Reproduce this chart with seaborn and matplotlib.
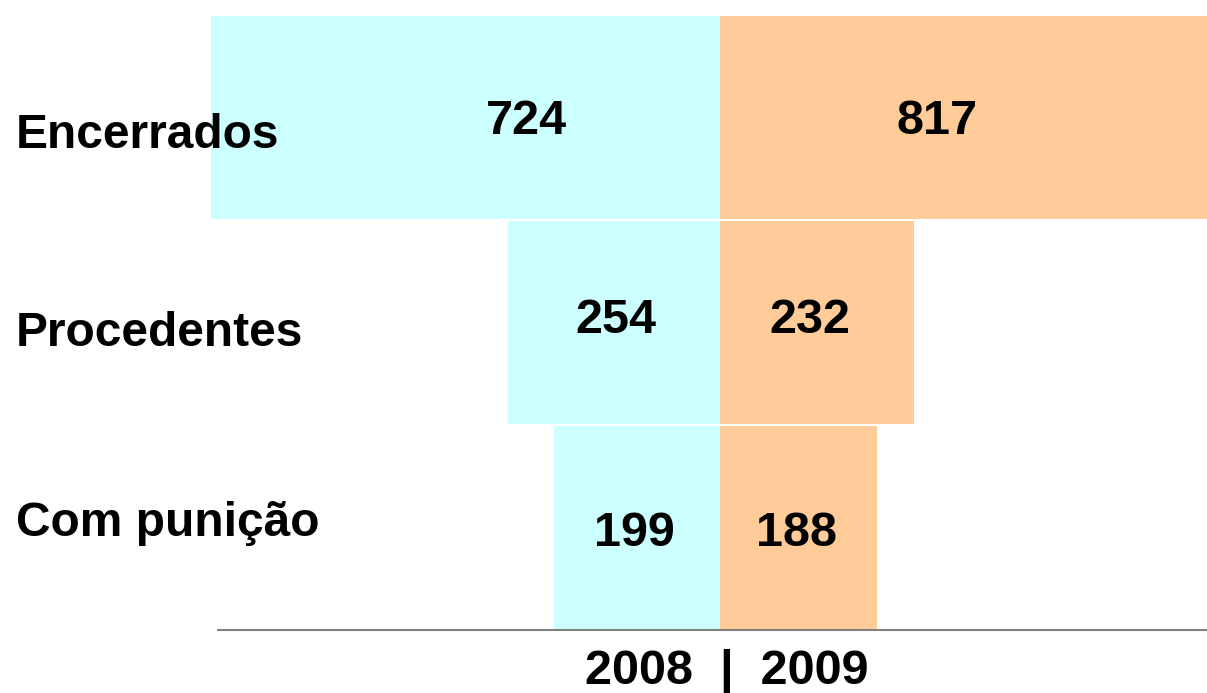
import numpy as np
import pandas as pd
import seaborn as sns
import matplotlib.pyplot as plt

categories = ["Encerrados", "Procedentes", "Com punição"]
vals_2008 = [724, 254, 199]
vals_2009 = [817, 232, 188]
years = ["2008", "2009"]

sns.set_style("white")
plt.rcParams["font.family"] = ["Liberation Sans", "DejaVu Sans"]
plt.rcParams["text.color"] = "black"

fig = plt.figure(figsize=(12.07, 6.93), dpi=100)
ax = fig.add_axes([211 / 1207, 63 / 693, 996 / 1207, 615 / 693])

df = pd.DataFrame({"cat": categories, "y2008": vals_2008, "y2009": vals_2009})
sns.barplot(x=-df["y2008"], y=df["cat"], orient="h", color="#CCFFFF",
            saturation=1, width=0.99, linewidth=0, ax=ax)
sns.barplot(x=df["y2009"], y=df["cat"], orient="h", color="#FFCC99",
            saturation=1, width=0.99, linewidth=0, ax=ax)

ax.set_xlim(-609.6, 583.2)
ax.set_ylim(2.5, -0.5)

# value labels inside the bars (slight per-row vertical nudges)
left_pos = [-232, -125, -102]
right_pos = [260, 108, 92]
nudge = [0.02, -0.01, 0.03]
for i in range(len(categories)):
    ax.text(left_pos[i], i + nudge[i], str(vals_2008[i]), ha="center", va="center",
            fontsize=35, fontweight="bold", color="black")
    ax.text(right_pos[i], i + nudge[i], str(vals_2009[i]), ha="center", va="center",
            fontsize=35, fontweight="bold", color="black")

# category names at the left
cat_y = [136, 333, 523]
for name, yy in zip(categories, cat_y):
    fig.text(16 / 1207, 1 - yy / 693, name, ha="left", va="center",
             fontsize=34.5, fontweight="bold", color="black")

fig.text(727 / 1207, 1 - 672 / 693, f"{years[0]}  |  {years[1]}", ha="center",
         va="center", fontsize=35, fontweight="bold", color="black")

ax.set_xticks([])
ax.set_yticks([])
ax.set_xlabel("")
ax.set_ylabel("")
for s in ["top", "left", "right"]:
    ax.spines[s].set_visible(False)
ax.spines["bottom"].set_color("#808080")
ax.spines["bottom"].set_linewidth(1.5)
ax.spines["bottom"].set_bounds(-601, 583.2)

fig.savefig("out.png", dpi=100)
